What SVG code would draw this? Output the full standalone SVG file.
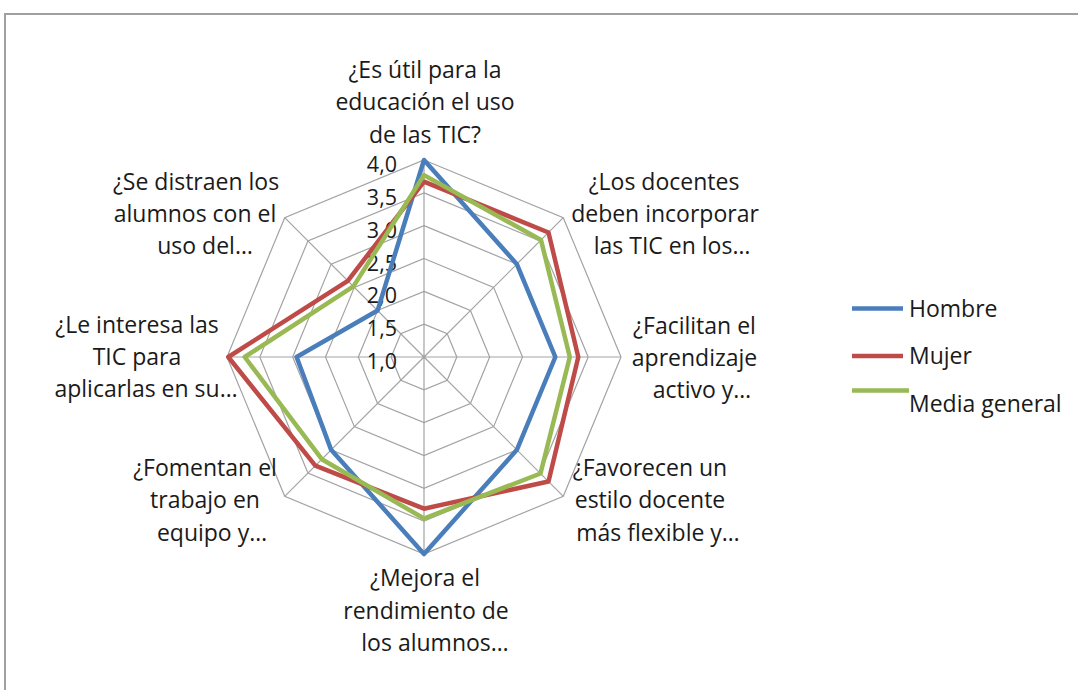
<svg xmlns="http://www.w3.org/2000/svg" width="1078" height="690" viewBox="0 0 1078 690">
<style>
text{font-family:"Open Sans","Noto Sans","Liberation Sans",sans-serif;font-size:23px;fill:#1a1a1a}
.c{text-anchor:middle}
.v{text-anchor:end;font-size:21.5px}
.grid{fill:none;stroke:#a3a3a3;stroke-width:1.2}
.s{fill:none;stroke-width:4.5;stroke-linejoin:round}
.blue{stroke:#4a7ebb}
.red{stroke:#be4b48}
.green{stroke:#98b954}
</style>
<rect x="5" y="14" width="1090" height="700" fill="#ffffff" stroke="#a0a0a0" stroke-width="2"/>
<g id="grid">
<polygon class="grid" points="424,324.17 447.21,333.79 456.83,357 447.21,380.21 424,389.83 400.79,380.21 391.17,357 400.79,333.79"/>
<polygon class="grid" points="424,291.33 470.43,310.57 489.67,357 470.43,403.43 424,422.67 377.57,403.43 358.33,357 377.57,310.57"/>
<polygon class="grid" points="424,258.5 493.65,287.35 522.5,357 493.65,426.65 424,455.5 354.35,426.65 325.5,357 354.35,287.35"/>
<polygon class="grid" points="424,225.67 516.86,264.14 555.33,357 516.86,449.86 424,488.33 331.14,449.86 292.67,357 331.14,264.14"/>
<polygon class="grid" points="424,192.83 540.08,240.92 588.17,357 540.08,473.08 424,521.17 307.92,473.08 259.83,357 307.92,240.92"/>
<polygon class="grid" points="424,160 563.3,217.7 621,357 563.3,496.3 424,554 284.7,496.3 227,357 284.7,217.7"/>
<path class="grid" d="M424,357L424,160M424,357L563.3,217.7M424,357L621,357M424,357L563.3,496.3M424,357L424,554M424,357L284.7,496.3M424,357L227,357M424,357L284.7,217.7"/>
</g>
<g id="axis-values">
<text class="v" x="397" y="172">4,0</text>
<text class="v" x="397" y="204.8">3,5</text>
<text class="v" x="397" y="237.7">3,0</text>
<text class="v" x="397" y="270.5">2,5</text>
<text class="v" x="397" y="303.3">2,0</text>
<text class="v" x="397" y="336.2">1,5</text>
<text class="v" x="397" y="369">1,0</text>
</g>
<g id="connectors">
<polygon id="series-hombre" class="s blue" points="424,160 516.86,264.14 555.33,357 516.86,449.86 424,554 331.14,449.86 296.6,357 377.57,310.57"/>
<polygon id="series-mujer" class="s red" points="424,181.7 548.5,232.5 578.3,357 548.5,481.5 424,508.7 315.3,465.7 228.3,357 347.8,280.8"/>
<polygon id="series-media" class="s green" points="424,175.1 541,240 569.8,357 540.5,473.5 424,518.5 321.8,459.2 244.7,357 353.4,286.4"/>
</g>
<g id="label-top">
<text class="c" x="425" y="77.5">¿Es útil para la</text>
<text class="c" x="425" y="110">educación el uso</text>
<text class="c" x="425" y="142.5">de las TIC?</text>
</g>
<g id="label-top-right">
<text class="c" x="664" y="190">¿Los docentes</text>
<text class="c" x="665" y="222">deben incorporar</text>
<text class="c" x="672" y="254">las TIC en los…</text>
</g>
<g id="label-right">
<text class="c" x="694.5" y="334">¿Facilitan el</text>
<text class="c" x="694.5" y="366">aprendizaje</text>
<text class="c" x="702" y="398">activo y…</text>
</g>
<g id="label-bottom-right">
<text class="c" x="650" y="476">¿Favorecen un</text>
<text class="c" x="650" y="508">estilo docente</text>
<text class="c" x="658" y="541">más flexible y…</text>
</g>
<g id="label-bottom">
<text class="c" x="425" y="586">¿Mejora el</text>
<text class="c" x="426" y="619">rendimiento de</text>
<text class="c" x="435" y="651">los alumnos…</text>
</g>
<g id="label-bottom-left">
<text class="c" x="205" y="476">¿Fomentan el</text>
<text class="c" x="205" y="508">trabajo en</text>
<text class="c" x="212" y="541">equipo y…</text>
</g>
<g id="label-left">
<text class="c" x="137" y="333">¿Le interesa las</text>
<text class="c" x="137" y="365">TIC para</text>
<text class="c" x="146" y="397">aplicarlas en su…</text>
</g>
<g id="label-top-left">
<text class="c" x="196" y="190">¿Se distraen los</text>
<text class="c" x="195" y="222">alumnos con el</text>
<text class="c" x="205" y="254">uso del…</text>
</g>
<g id="legend">
<line class="blue" x1="852" y1="308.5" x2="903" y2="308.5" stroke-width="4.5"/>
<text x="909" y="316.5">Hombre</text>
<line class="red" x1="852" y1="356" x2="903" y2="356" stroke-width="4.5"/>
<text x="909" y="363.5">Mujer</text>
<line class="green" x1="852" y1="390.5" x2="909" y2="390.5" stroke-width="4.5"/>
<text x="909" y="412">Media general</text>
</g>
</svg>
